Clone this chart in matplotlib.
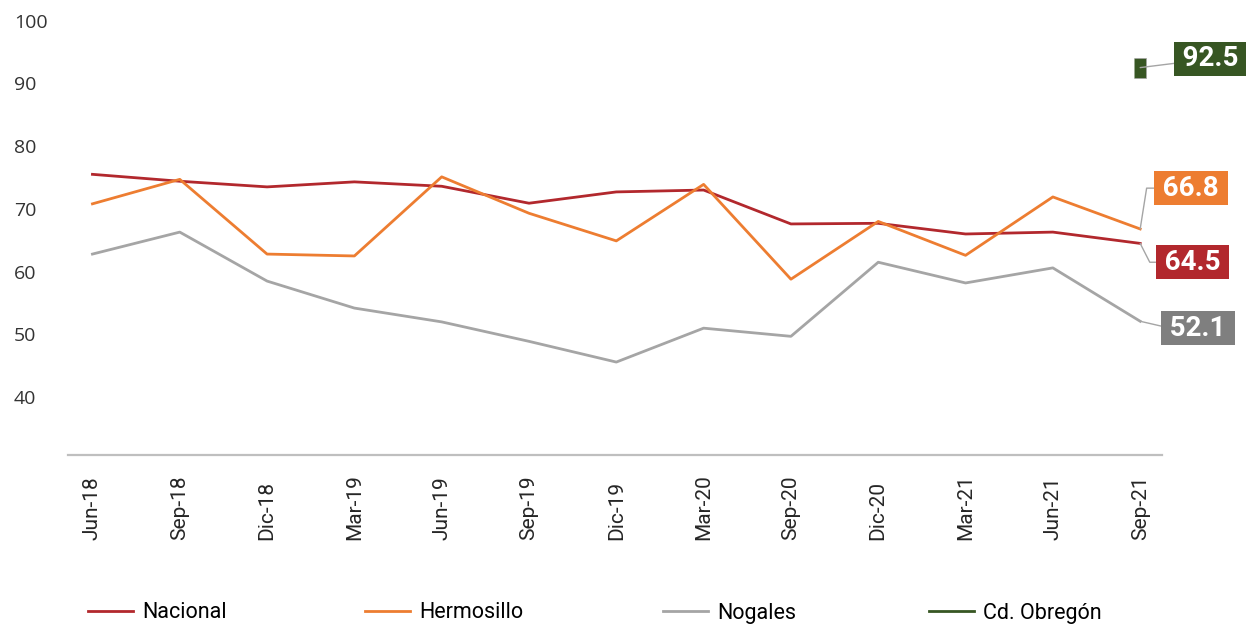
import numpy as np
import matplotlib.pyplot as plt
from matplotlib.lines import Line2D

fechas = ["Jun-18", "Sep-18", "Dic-18", "Mar-19", "Jun-19", "Sep-19", "Dic-19",
          "Mar-20", "Sep-20", "Dic-20", "Mar-21", "Jun-21", "Sep-21"]
nacional = [75.5, 74.4, 73.5, 74.3, 73.6, 70.9, 72.7, 73.0, 67.6, 67.7, 66.0, 66.3, 64.5]
hermosillo = [70.8, 74.7, 62.8, 62.5, 75.1, 69.3, 64.9, 73.9, 58.8, 68.0, 62.6, 71.9, 66.8]
nogales = [62.8, 66.3, 58.5, 54.2, 52.0, 48.9, 45.6, 51.0, 49.7, 61.5, 58.2, 60.6, 52.1]
obregon = [np.nan] * 12 + [92.5]

nombres = ["Nacional", "Hermosillo", "Nogales", "Cd. Obregón"]
colores = ["#B2282D", "#ED7D31", "#A5A5A5", "#375623"]
colores_caja = ["#B2282D", "#ED7D31", "#7F7F7F", "#375623"]
series = [nacional, hermosillo, nogales, obregon]

fig = plt.figure(figsize=(12.46, 6.25), dpi=100)
ax = fig.add_axes([68 / 1246, 1 - 455 / 625, (1162 - 68) / 1246, (455 - 20.5) / 625])

x = np.arange(len(fechas))
for nom, col, s in zip(nombres, colores, series):
    if nom == "Cd. Obregón":
        ax.plot(x, s, color=col, lw=2, marker=[(-0.6, -1), (0.6, -1), (0.6, 1), (-0.6, 1)],
                markersize=14, markeredgecolor="#A5A5A5", markeredgewidth=0.5, clip_on=False)
    else:
        ax.plot(x, s, color=col, lw=2, clip_on=False)

ax.set_xlim(-0.28, 12.25)
ax.set_ylim(30.8, 100)
ax.set_yticks([40, 50, 60, 70, 80, 90, 100])
ax.set_xticks(x)
ax.set_xticklabels(fechas)
ax.tick_params(axis="x", length=0, pad=61, labelsize=15, labelcolor="#262626")
ax.tick_params(axis="y", length=0, pad=39, labelsize=14, labelcolor="#333333")
for lab in ax.get_xticklabels():
    lab.set_family("Roboto")
    lab.set_rotation(90)
    lab.set_rotation_mode("anchor")
    lab.set_ha("left")
    lab.set_va("center")
for lab in ax.get_yticklabels():
    lab.set_ha("left")
    lab.set_family("Open Sans")

for sp in ["top", "right", "left"]:
    ax.spines[sp].set_visible(False)
ax.spines["bottom"].set_color("#BFBFBF")
ax.spines["bottom"].set_linewidth(1.6)

# etiquetas del ultimo valor
pos = {"Nacional": (12.60, 61.5, -63), "Hermosillo": (12.58, 73.3, 81),
       "Nogales": (12.66, 51.0, -13), "Cd. Obregón": (12.81, 93.9, None)}
for nom, col, s in zip(nombres, colores_caja, series):
    tx, ty, ang = pos[nom]
    if ang is None:
        cs = "arc3"
    else:
        cs = "angle,angleA=0,angleB=%d,rad=0" % ang
    ax.annotate("\u2009%.1f\u2009" % s[-1], xy=(x[-1], s[-1]), xytext=(tx, ty),
                ha="center", va="center", color="white", fontsize=20,
                family="Roboto", fontweight="bold", annotation_clip=False,
                bbox=dict(boxstyle="square,pad=0.12", fc=col, ec="none"),
                arrowprops=dict(arrowstyle="-", color="#A5A5A5", lw=1,
                                connectionstyle=cs, shrinkA=0, shrinkB=0))

# leyenda
leg_x = [88, 365, 663, 929]
for nom, col, lx in zip(nombres, colores, leg_x):
    h = Line2D([], [], color=col, lw=2)
    fig.legend(handles=[h], labels=[nom], loc="center left",
               bbox_to_anchor=(lx / 1246, 1 - 613 / 625), frameon=False,
               prop={"family": "Roboto", "size": 15.5}, handlelength=2.1,
               handletextpad=0.4, borderpad=0, borderaxespad=0)

fig.savefig("out.png", dpi=100)
